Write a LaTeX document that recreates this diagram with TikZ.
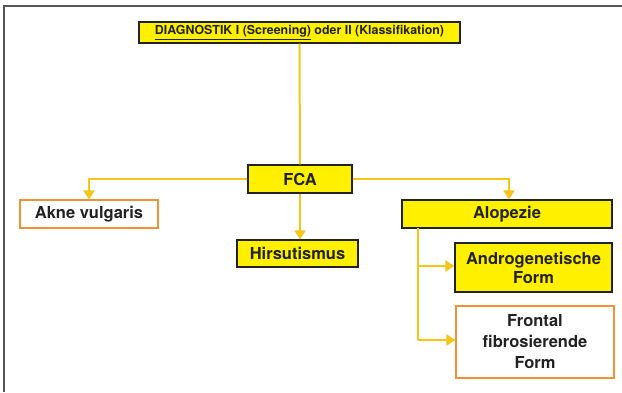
\documentclass[tikz,border=0pt]{standalone}
\usepackage{fontspec}
\setmainfont{TeX Gyre Heros}
\usetikzlibrary{arrows.meta}
\definecolor{boxyellow}{HTML}{FFF000}
\definecolor{lineyellow}{HTML}{F5C518}
\definecolor{boxorange}{HTML}{F39035}
\definecolor{frame}{HTML}{555555}
\definecolor{textdark}{HTML}{222222}
\begin{document}
\begin{tikzpicture}[x=1pt,y=-1pt,
  ybox/.style={draw=textdark,line width=1.2pt,fill=boxyellow,inner sep=0pt,font=\bfseries\fontsize{16.5}{19}\selectfont,text=textdark,align=center},
  obox/.style={draw=boxorange,line width=1.2pt,fill=white,inner sep=0pt,font=\bfseries\fontsize{16.5}{21}\selectfont,text=textdark,align=center},
  conn/.style={draw=lineyellow,line width=2pt},
  arr/.style={conn,-{Triangle[width=11pt,length=9pt]},shorten >=0pt}]
\useasboundingbox (0,0) rectangle (622,392);
\fill[white] (0,0) rectangle (622,392);
\draw[frame,line width=1.4pt] (4,392) -- (4,6) -- (622,6);
% nodes
\node[ybox,minimum width=321pt,minimum height=21pt,font=\bfseries\fontsize{12.4}{14}\selectfont] (top) at (299.5,32.5) {\underline{DIAGNOSTIK I (Screening)} oder II (Klassifikation)};
\node[ybox,minimum width=104pt,minimum height=28pt] (fca) at (300,179) {FCA};
\node[obox,minimum width=138pt,minimum height=28pt] (akne) at (89,214) {Akne vulgaris};
\node[ybox,minimum width=121pt,minimum height=27pt] (hirs) at (297.5,253.5) {Hirsutismus};
\node[ybox,minimum width=210pt,minimum height=28pt] (alo) at (507,214) {Alopezie};
\node[ybox,minimum width=157pt,minimum height=49pt] (andro) at (533.5,267.5) {Androgenetische\\Form};
\node[obox,minimum width=158pt,minimum height=72pt] (front) at (535,342) {Frontal\\fibrosierende\\Form};
\coordinate (fl) at (89,179);
\coordinate (fr) at (509,179);
\coordinate (a1) at (418,228);
\coordinate (a2) at (418,266);
\coordinate (a3) at (418,340);
% connectors
\draw[conn] (top.south) -- (fca.north);
\draw[arr] (fca.west) -- (fl) -- (akne.north);
\draw[arr] (fca.east) -- (fr) -- (fr |- alo.north);
\draw[arr] (fca.south) -- (fca.south |- hirs.north);
\draw[conn] (a1) -- (a3);
\draw[arr] (a2) -- (a2 -| andro.west);
\draw[arr] (a3) -- (a3 -| front.west);
\end{tikzpicture}
\end{document}
